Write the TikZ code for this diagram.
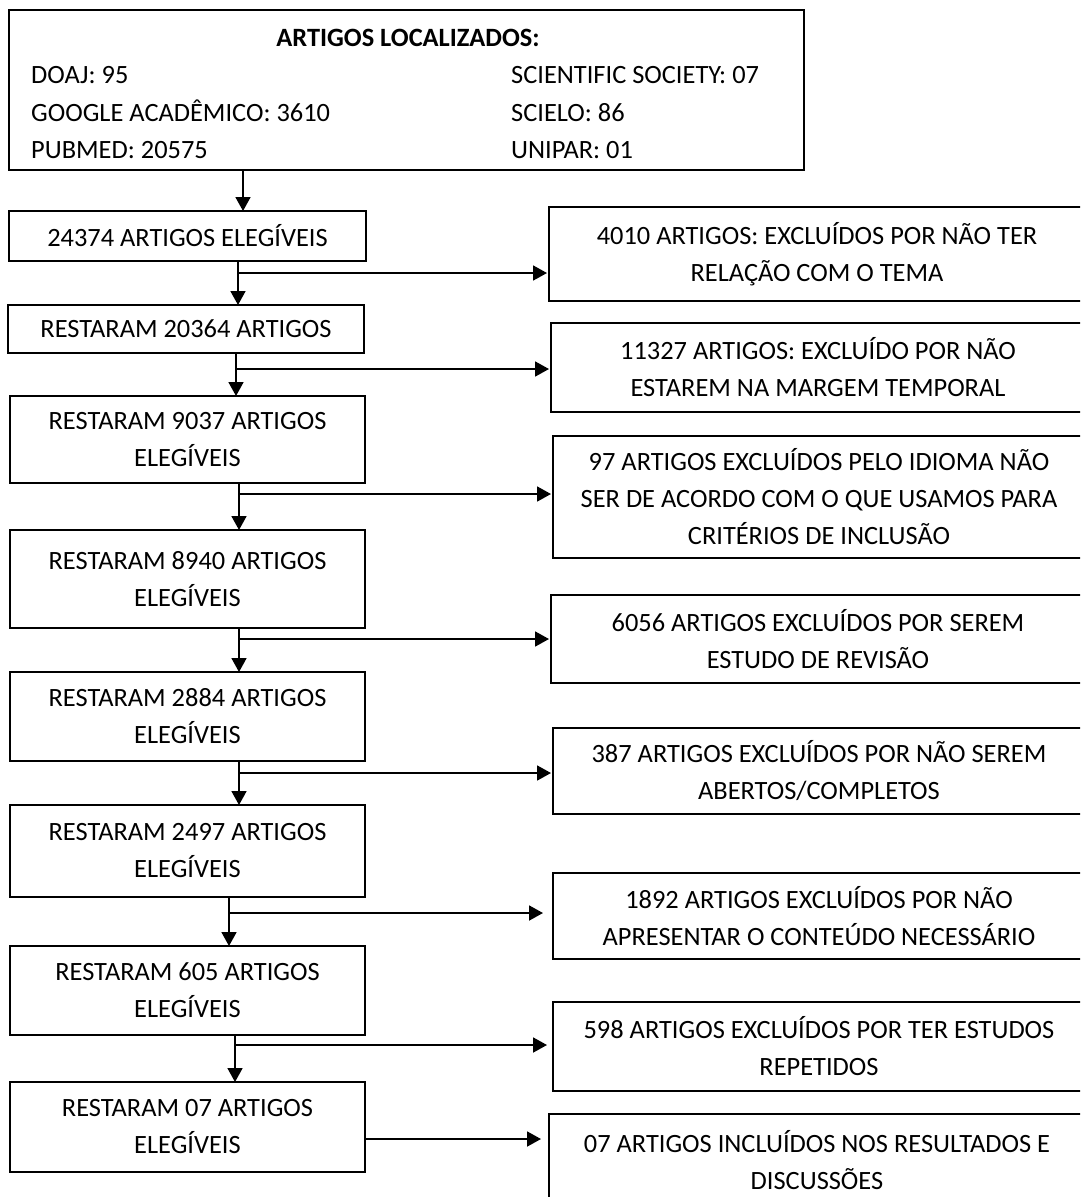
\documentclass[tikz,border=0pt]{standalone}
\usepackage{fontspec}
\setmainfont{Carlito}
\usetikzlibrary{positioning,arrows.meta}
\tikzstyle{caixa}=[draw,line width=1.8pt,rectangle,inner sep=0pt,outer sep=0pt,align=center,font=\fontsize{26.4}{37}\selectfont]
\tikzstyle{texto}=[inner sep=0pt,font=\fontsize{26.4}{37}\selectfont]
\tikzstyle{seta}=[draw,line width=1.8pt,-{Triangle[length=14pt,width=15pt]}]

\begin{document}
\begin{tikzpicture}[x=1pt,y=-1pt]
  \useasboundingbox (0,0) rectangle (1080,1197);
  \clip (0,0) rectangle (1080,1197);

  % bases consultadas
  \node(base)[caixa,minimum width=795pt,minimum height=160pt] at (406.5,90){};
  \node(titulo)[texto,anchor=base,font=\fontsize{26.4}{37}\selectfont\bfseries] at (408,46.5){ARTIGOS LOCALIZADOS:};
  \node(doaj)[texto,anchor=base west] at (31,83.5){DOAJ: 95};
  \node(google)[texto,anchor=base west] at (31,121.5){GOOGLE ACADÊMICO: 3610};
  \node(pubmed)[texto,anchor=base west] at (31,158.5){PUBMED: 20575};
  \node(society)[texto,anchor=base west] at (511,83.5){SCIENTIFIC SOCIETY: 07};
  \node(scielo)[texto,anchor=base west] at (511,121.5){SCIELO: 86};
  \node(unipar)[texto,anchor=base west] at (511,158.5){UNIPAR: 01};

  % coluna da esquerda
  \node(s1)[caixa,minimum width=357pt,minimum height=50pt] at (187.5,236){24374 ARTIGOS ELEGÍVEIS};
  \node(s2)[caixa,minimum width=356pt,minimum height=48pt] at (186,329){RESTARAM 20364 ARTIGOS};
  \node(s3)[caixa,minimum width=355pt,minimum height=87pt] at (187.5,439.5){RESTARAM 9037 ARTIGOS\\ELEGÍVEIS};
  \node(s4)[caixa,minimum width=355pt,minimum height=98pt] at (187.5,579){RESTARAM 8940 ARTIGOS\\ELEGÍVEIS};
  \node(s5)[caixa,minimum width=355pt,minimum height=89pt] at (187.5,716.5){RESTARAM 2884 ARTIGOS\\ELEGÍVEIS};
  \node(s6)[caixa,minimum width=355pt,minimum height=92pt] at (187.5,851){RESTARAM 2497 ARTIGOS\\ELEGÍVEIS};
  \node(s7)[caixa,minimum width=355pt,minimum height=89pt] at (187.5,990.5){RESTARAM 605 ARTIGOS\\ELEGÍVEIS};
  \node(s8)[caixa,minimum width=355pt,minimum height=90pt] at (187.5,1127){RESTARAM 07 ARTIGOS\\ELEGÍVEIS};

  % coluna da direita
  \node(r1)[caixa,minimum width=536pt,minimum height=94pt] at (817,254){4010 ARTIGOS: EXCLUÍDOS POR NÃO TER\\RELAÇÃO COM O TEMA};
  \node(r2)[caixa,minimum width=534pt,minimum height=89pt] at (818,367.5){11327 ARTIGOS: EXCLUÍDO POR NÃO\\ESTAREM NA MARGEM TEMPORAL};
  \node(r3)[caixa,minimum width=532pt,minimum height=122pt] at (819,497){97 ARTIGOS EXCLUÍDOS PELO IDIOMA NÃO\\SER DE ACORDO COM O QUE USAMOS PARA\\CRITÉRIOS DE INCLUSÃO};
  \node(r4)[caixa,minimum width=534pt,minimum height=88pt] at (818,639){6056 ARTIGOS EXCLUÍDOS POR SEREM\\ESTUDO DE REVISÃO};
  \node(r5)[caixa,minimum width=532pt,minimum height=86pt] at (819,771){387 ARTIGOS EXCLUÍDOS POR NÃO SEREM\\ABERTOS/COMPLETOS};
  \node(r6)[caixa,minimum width=532pt,minimum height=86pt] at (819,916){1892 ARTIGOS EXCLUÍDOS POR NÃO\\APRESENTAR O CONTEÚDO NECESSÁRIO};
  \node(r7)[caixa,minimum width=532pt,minimum height=89pt] at (819,1046.5){598 ARTIGOS EXCLUÍDOS POR TER ESTUDOS\\REPETIDOS};
  \node(r8)[caixa,minimum width=536pt,minimum height=92pt] at (817,1160){07 ARTIGOS INCLUÍDOS NOS RESULTADOS E\\DISCUSSÕES};

  % pontos de desvio
  \coordinate(b0) at (243,190);
  \coordinate(b1) at (238,273);
  \coordinate(b2) at (236,369);
  \coordinate(b3) at (239,494);
  \coordinate(b4) at (239,639);
  \coordinate(b5) at (239,773);
  \coordinate(b6) at (229,913);
  \coordinate(b7) at (235,1045);
  \coordinate(b8) at (365,1139);

  \path
    (base.south -| b0) edge[seta] (s1.north -| b0)
    (s1.south -| b1) edge[seta] (s2.north -| b1)
    (s2.south -| b2) edge[seta] (s3.north -| b2)
    (s3.south -| b3) edge[seta] (s4.north -| b3)
    (s4.south -| b4) edge[seta] (s5.north -| b4)
    (s5.south -| b5) edge[seta] (s6.north -| b5)
    (s6.south -| b6) edge[seta] (s7.north -| b6)
    (s7.south -| b7) edge[seta] (s8.north -| b7);

  \path
    (b1) edge[seta,shorten >=2pt] (b1 -| r1.west)
    (b2) edge[seta,shorten >=2pt] (b2 -| r2.west)
    (b3) edge[seta,shorten >=2pt] (b3 -| r3.west)
    (b4) edge[seta,shorten >=2pt] (b4 -| r4.west)
    (b5) edge[seta,shorten >=2pt] (b5 -| r5.west)
    (b6) edge[seta,shorten >=10pt] (b6 -| r6.west)
    (b7) edge[seta,shorten >=6pt] (b7 -| r7.west)
    (b8 -| s8.east) edge[seta,shorten >=8pt] (b8 -| r8.west);
\end{tikzpicture}
\end{document}
